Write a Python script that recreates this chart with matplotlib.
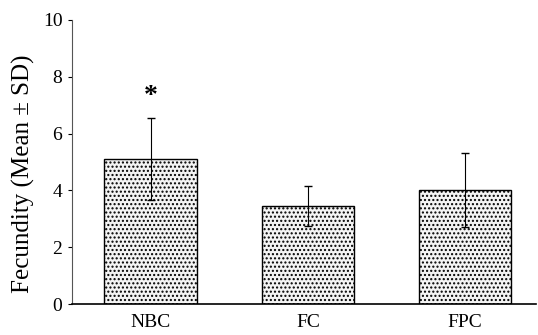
import matplotlib
matplotlib.use('Agg')
import matplotlib.pyplot as plt

# Data
groups = ["NBC", "FC", "FPC"]
means = [5.1, 3.45, 4.0]
sds = [1.45, 0.72, 1.3]
star_y = 7.3

plt.rcParams['font.family'] = ['Liberation Serif', 'DejaVu Serif']
plt.rcParams['hatch.linewidth'] = 1.0
plt.rcParams['hatch.color'] = '#333333'

fig = plt.figure(figsize=(5.38, 3.35), dpi=100)
ax = fig.add_axes([0.134, 0.0925, 0.862, 0.848])

x = range(len(groups))
ax.bar(x, means, width=0.59, color="#f4f4f4", edgecolor="black", linewidth=1.0,
       hatch="....", zorder=2)
ax.errorbar(x, means, yerr=sds, fmt="none", ecolor="black", elinewidth=0.8,
            capsize=3, capthick=1.0, zorder=3)

# significance marker above NBC
ax.text(0, star_y, "*", ha="center", va="center", fontsize=20, fontweight="bold")

ax.set_xlim(-0.5, 2.45)
ax.set_ylim(0, 10)
ax.set_yticks([0, 2, 4, 6, 8, 10])
ax.set_xticks(list(x))
ax.set_xticklabels(groups, fontsize=14)
ax.tick_params(axis="x", length=0, pad=7)
ax.tick_params(axis="y", length=3, width=0.8, labelsize=14, direction="out", pad=4)
ax.set_ylabel("Fecundity (Mean ± SD)", fontsize=18)
ax.yaxis.set_label_coords(-0.08, 0.46)

ax.spines["top"].set_visible(False)
ax.spines["right"].set_visible(False)
ax.spines["left"].set_linewidth(0.8)
ax.spines["left"].set_color("#555555")
ax.spines["bottom"].set_linewidth(1.2)

fig.savefig("out.png", dpi=100)
